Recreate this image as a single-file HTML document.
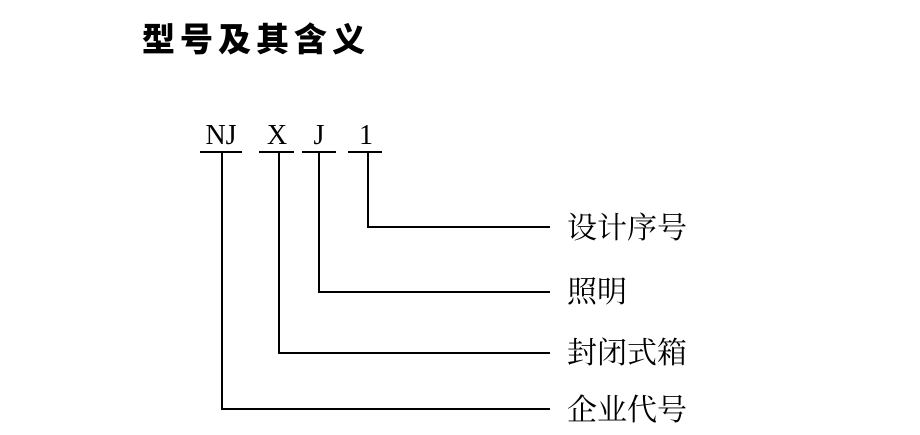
<!DOCTYPE html>
<html><head><meta charset="utf-8"><style>
html,body{margin:0;padding:0;background:#fff;width:920px;height:435px;overflow:hidden}
svg{position:absolute;left:0;top:0}
</style></head><body>
<svg width="920" height="435" viewBox="0 0 920 435">
<text x="142" y="51" font-family="'Noto Sans CJK SC',sans-serif" font-weight="900" font-size="33" letter-spacing="5" fill="#000">型号及其含义</text>
<g font-family="'Liberation Serif',serif" font-size="28" fill="#000" text-anchor="middle">
<text x="221" y="144">NJ</text>
<text x="277" y="144">X</text>
<text x="319" y="144">J</text>
<text x="366" y="144">1</text>
</g>
<g stroke="#000" stroke-width="2" fill="none">
<line x1="200" y1="152" x2="242" y2="152"/>
<line x1="259" y1="152" x2="294" y2="152"/>
<line x1="302" y1="152" x2="336" y2="152"/>
<line x1="348" y1="152" x2="382" y2="152"/>
<polyline points="368,152 368,227 550,227"/>
<polyline points="319,152 319,292 550,292"/>
<polyline points="279,152 279,353 550,353"/>
<polyline points="222,152 222,409 550,409"/>
</g>
<g font-family="'Noto Serif CJK SC',serif" font-size="30" fill="#000">
<text x="567" y="238">设计序号</text>
<text x="567" y="302">照明</text>
<text x="567" y="363">封闭式箱</text>
<text x="567" y="420">企业代号</text>
</g>
</svg>
</body></html>
